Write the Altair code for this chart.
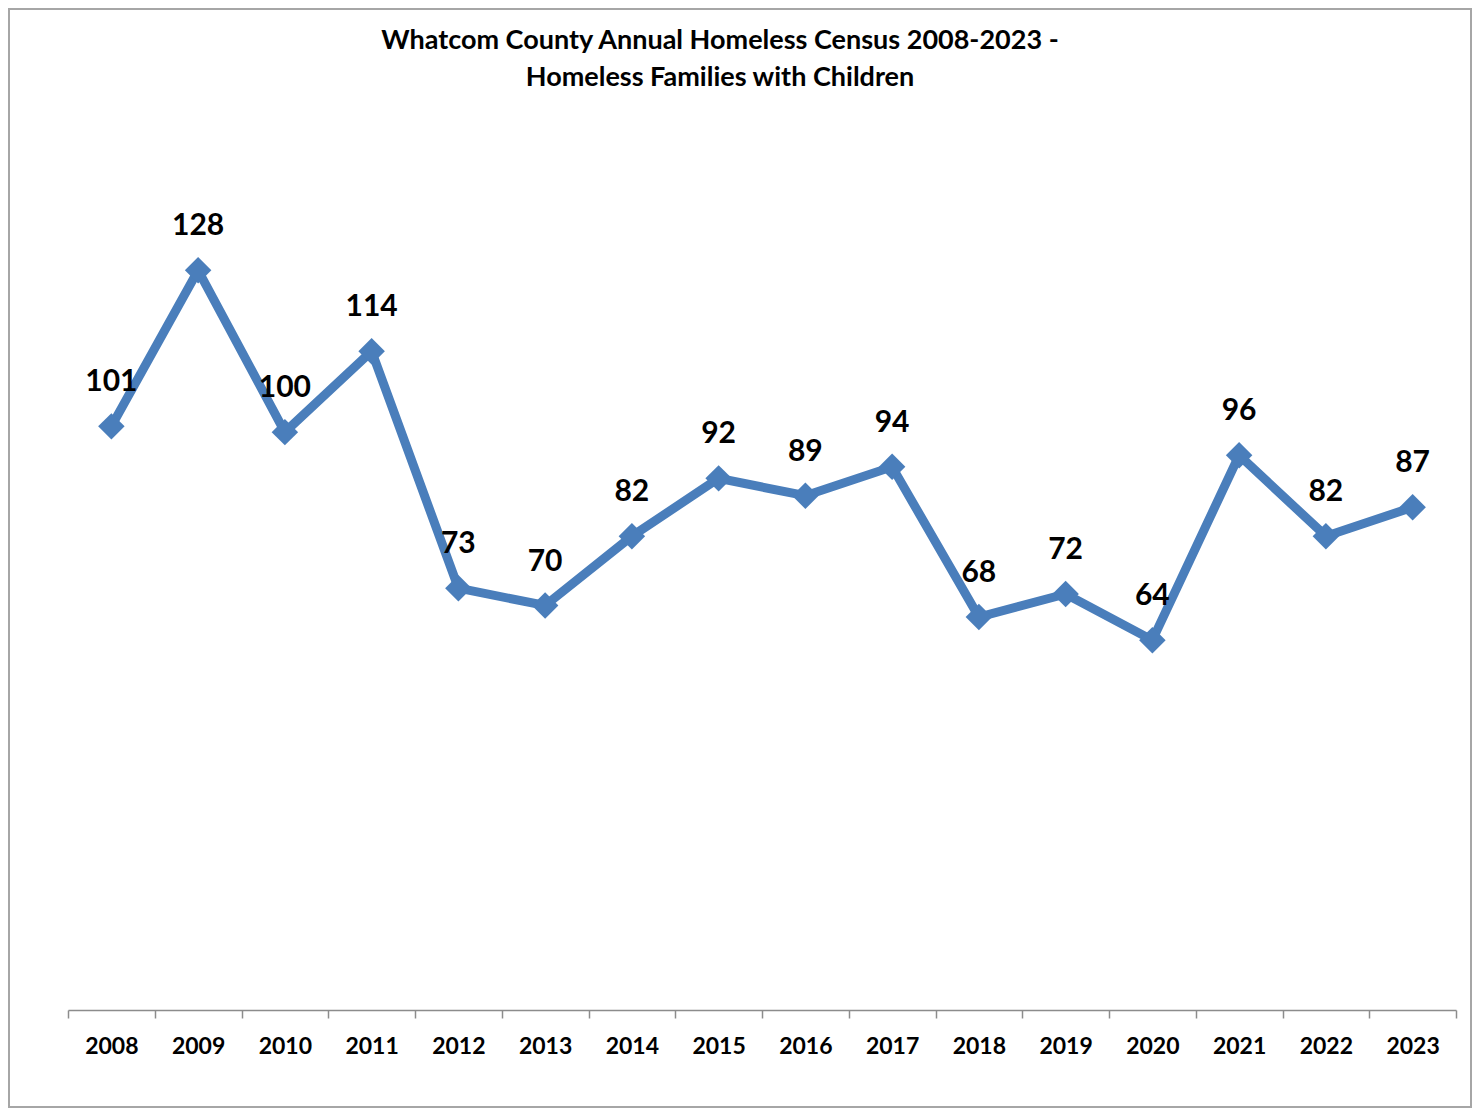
import altair as alt
import pandas as pd

# ---- data ----
years = list(range(2008, 2024))
families = [101, 128, 100, 114, 73, 70, 82, 92, 89, 94, 68, 72, 64, 96, 82, 87]
tick_bounds = [y - 0.5 for y in years] + [years[-1] + 0.5]
title_lines = ["Whatcom County Annual Homeless Census 2008-2023 -",
               "Homeless Families with Children"]

df = pd.DataFrame({"Year": years, "Families": families})

W, H = 1388, 809
BLUE = "#4A7EBB"
FONT = "Lato"
GRAY = "#8C8C8C"

x = alt.X(
    "Year:Q",
    scale=alt.Scale(domain=[tick_bounds[0], tick_bounds[-1]], nice=False, zero=False),
    axis=alt.Axis(
        values=tick_bounds, title=None, grid=False,
        labelExpr="datum.value < 2023 ? format(datum.value + 0.5, 'd') : ''",
        labelOffset=W / 32, labelFlush=False, labelOverlap=False, labelBound=False,
        labelFont=FONT, labelFontSize=23, labelFontWeight="bold", labelColor="black",
        labelPadding=17, tickSize=8, tickColor=GRAY, tickWidth=1.5,
        domainColor=GRAY, domainWidth=1.5,
    ),
)
y = alt.Y("Families:Q", scale=alt.Scale(domain=[0, 140], nice=False, zero=True), axis=None)

base = alt.Chart(df).encode(x=x, y=y)

line = base.mark_line(color=BLUE, strokeWidth=9)
points = base.mark_point(shape="diamond", filled=True, size=700, color=BLUE, opacity=1)
labels = base.mark_text(dy=-44, fontSize=30, fontWeight="bold", font=FONT, color="black").encode(
    text="Families:Q"
)

border = alt.Chart(pd.DataFrame({"a": [0]})).mark_rect(
    filled=False, stroke="#A6A6A6", strokeWidth=2
).encode(
    x=alt.value(-59), x2=alt.value(W + 15), y=alt.value(-192), y2=alt.value(H + 97)
)

chart = alt.layer(border, line, points, labels).properties(
    width=W,
    height=H,
    autosize=alt.AutoSizeParams(type="none"),
    padding={"left": 60, "top": 193, "right": 16, "bottom": 98},
    title=alt.TitleParams(
        title_lines, font=FONT, fontSize=27, fontWeight="bold", color="black",
        lineHeight=37, anchor="middle", dx=-42, offset=-84,
    ),
).configure_view(stroke=None)

chart.save("out.html", embed_options={"renderer": "svg", "actions": False})
